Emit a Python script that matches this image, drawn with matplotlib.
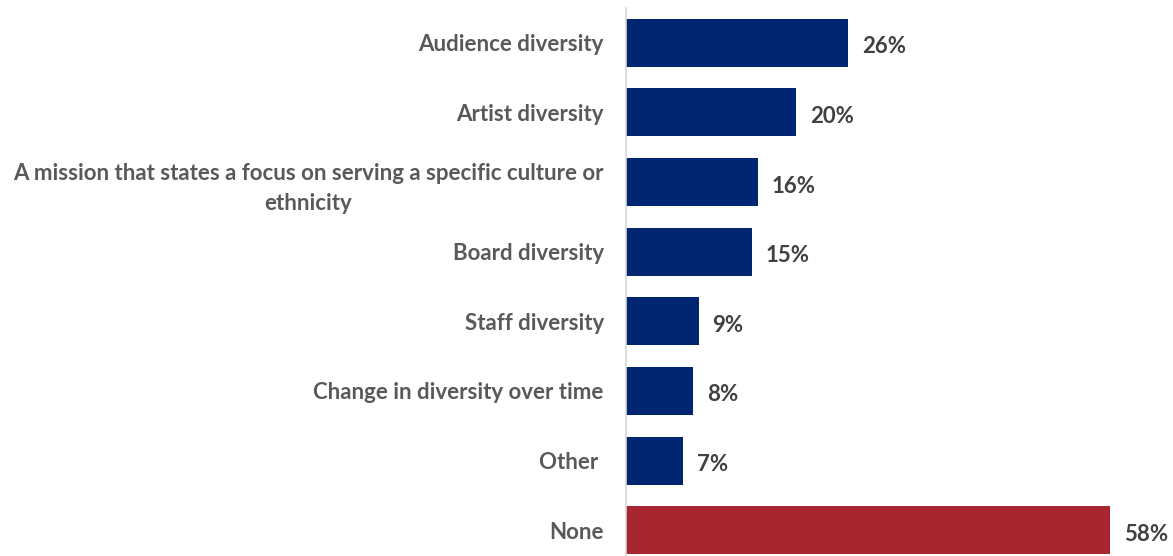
import matplotlib
matplotlib.use("Agg")
import matplotlib.pyplot as plt
from matplotlib.transforms import offset_copy

categories = ["Audience diversity", "Artist diversity",
              "A mission that states a focus on serving a specific culture or\nethnicity",
              "Board diversity", "Staff diversity", "Change in diversity over time",
              "Other ", "None"]
values = [26.6, 20.4, 15.8, 15.1, 8.7, 8.0, 6.8, 58.0]
labels = ["26%", "20%", "16%", "15%", "9%", "8%", "7%", "58%"]
colors = ["#002672"] * 7 + ["#A8262F"]

plt.rcParams['font.family'] = ['Lato', 'DejaVu Sans']
W, H = 1173, 556
fig = plt.figure(figsize=(W / 100, H / 100), dpi=100)
left = 626 / W
top_px, bot_px = 8, 565
ax = fig.add_axes([left, (H - bot_px) / H, 1 - left, (bot_px - top_px) / H])

n = len(categories)
ypos = list(range(n))
ax.barh(ypos, values, height=0.69, color=colors)
ax.set_ylim(n - 0.5, -0.5)
ax.set_xlim(0, 58 * (W - 626) / 484)

ax.set_yticks(ypos)
ax.set_yticklabels(categories, fontsize=16, fontweight='bold', color='#595959',
                   multialignment='center', linespacing=1.5)
ax.tick_params(axis='y', length=0, pad=16)
ax.set_xticks([])
for s in ['top', 'right', 'bottom']:
    ax.spines[s].set_visible(False)
ax.spines['left'].set_color('#D9D9D9')
ax.spines['left'].set_linewidth(1.2)

for y, v, lab in zip(ypos, values, labels):
    t = offset_copy(ax.transData, fig=fig, x=14, y=-4, units='dots')
    ax.text(v, y, lab, transform=t, ha='left', va='center', fontsize=16,
            fontweight='bold', color='#404040')

fig.savefig("out.png", dpi=100)
